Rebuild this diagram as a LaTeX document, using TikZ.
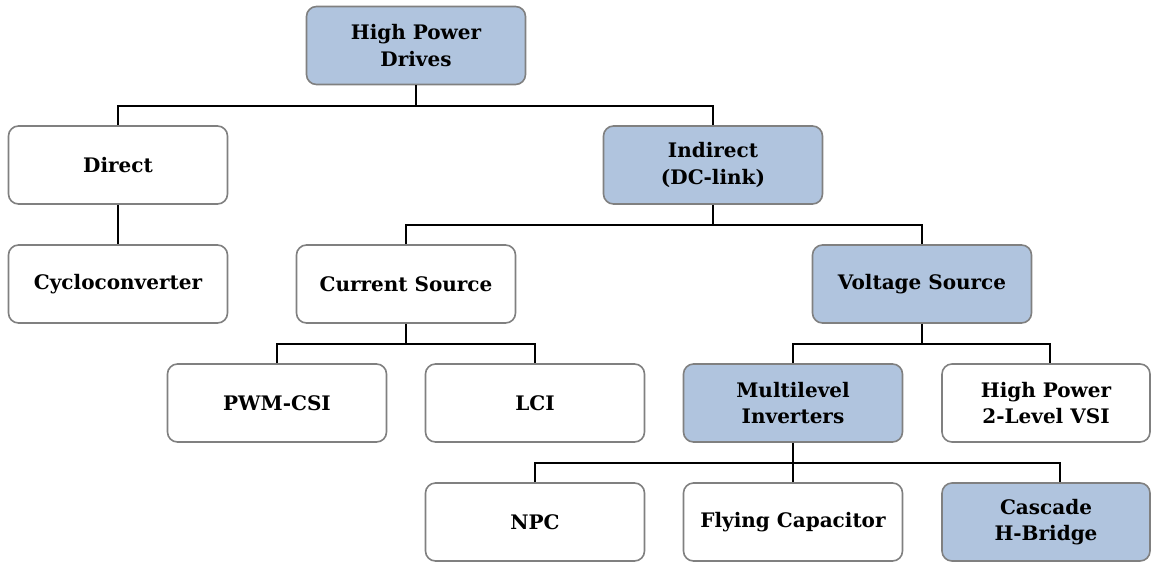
\documentclass[tikz,border=0pt]{standalone}
\usepackage{fontspec}
\setmainfont{DejaVu Serif}
\definecolor{boxblue}{RGB}{176,196,222}
\definecolor{boxedge}{RGB}{128,128,128}
\begin{document}
\begin{tikzpicture}[x=1pt,y=-1pt,
  box/.style={draw=boxedge, line width=1.6pt, rounded corners=10pt, fill=white,
    minimum width=219pt, minimum height=78pt, inner sep=0pt, align=center,
    font=\fontsize{20}{26.5}\selectfont\bfseries},
  hl/.style={box, fill=boxblue},
  narrowbox/.style={minimum width=208pt},
  link/.style={draw=black, line width=2pt}]
\useasboundingbox (0,0) rectangle (1153,563);

% tree nodes, row by row
\node[hl]  (hpd)      at (416,45.5) {High Power\\Drives};
\node[box] (direct)   at (118,165)  {Direct};
\node[hl]  (indirect) at (713,165)  {Indirect\\(DC-link)};
\node[box] (cyclo)    at (118,284)  {Cycloconverter};
\node[box] (csrc)     at (406,284)  {Current Source};
\node[hl]  (vsrc)     at (922,284)  {Voltage Source};
\node[box] (pwmcsi)   at (277,403)  {PWM-CSI};
\node[box] (lci)      at (535,403)  {LCI};
\node[hl]  (mli)      at (793,403)  {Multilevel\\Inverters};
\node[box,narrowbox] (vsi) at (1046,403) {High Power\\2-Level VSI};
\node[box] (npc)      at (535,522)  {NPC};
\node[box] (fc)       at (793,522)  {Flying Capacitor};
\node[hl,narrowbox] (chb) at (1046,522) {Cascade\\H-Bridge};

% junction points of the branch lines
\coordinate (j1) at (416,106);
\coordinate (j2) at (713,225);
\coordinate (j3) at (406,344);
\coordinate (j4) at (922,344);
\coordinate (j5) at (793,463);

% connectors
\draw[link] (hpd.south) -- (j1);
\draw[link] (direct.north) |- (j1) -| (indirect.north);
\draw[link] (direct.south) -- (cyclo.north);
\draw[link] (indirect.south) -- (j2);
\draw[link] (csrc.north) |- (j2) -| (vsrc.north);
\draw[link] (csrc.south) -- (j3);
\draw[link] (pwmcsi.north) |- (j3) -| (lci.north);
\draw[link] (vsrc.south) -- (j4);
\draw[link] (mli.north) |- (j4) -| ([xshift=4pt]vsi.north);
\draw[link] (mli.south) -- (fc.north);
\draw[link] (npc.north) |- (j5) -| ([xshift=14pt]chb.north);
\end{tikzpicture}
\end{document}
